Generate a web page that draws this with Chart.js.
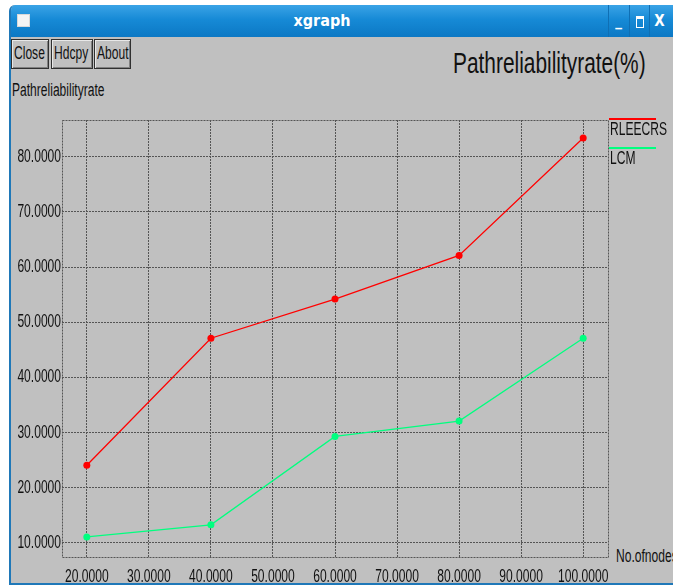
<!DOCTYPE html>
<html>
<head>
<meta charset="utf-8">
<script src="https://cdn.jsdelivr.net/npm/chart.js@4.4.1/dist/chart.umd.min.js"></script>
<style>
  html, body { margin:0; padding:0; background:#ffffff; width:673px; height:588px; overflow:hidden; }
  .narrow { font-family: 'Liberation Sans', Arial, sans-serif; }
  .sq { display:inline-block; transform:scaleX(0.67); transform-origin:left top; white-space:nowrap; }
  #win { position:absolute; left:9px; top:5px; width:700px; height:578px; background:#c0c0c0;
         border-left:2px solid #1f78b8; border-bottom:2px solid #1f78b8; border-top-left-radius:6px; overflow:hidden; }
  #tbar { position:absolute; left:0; top:0; width:100%; height:32px;
          background:linear-gradient(#3aa3e6, #168ad6 45%, #0c78c4); }
  #tbar .t { position:absolute; left:0; width:622px; top:6px; text-align:center; color:#fff;
             font:bold 16px 'DejaVu Sans Condensed', 'DejaVu Sans', sans-serif; }
  #icon { position:absolute; left:6px; top:9px; width:11px; height:11px; background:#f4f4f4; border:1px solid #d8d8d8; }
  .ctl { position:absolute; top:0; height:32px; width:20px; color:#fff; text-align:center;
         font:bold 15px 'DejaVu Sans Condensed', sans-serif; line-height:32px; border-left:1px solid #0f6fb4; box-sizing:border-box; }
  .btn { position:absolute; top:34px; height:30px; border:1px solid #303030; box-shadow: inset 1px 1px 0 #e8e8e8, inset -1px -1px 0 #808080;
         font-size:18px; line-height:27px; color:#111; box-sizing:border-box; padding-left:2px; overflow:hidden; }
  #cv { position:absolute; left:0; top:0; }
  .lbl { position:absolute; color:#111; white-space:nowrap; transform:scaleX(0.67); transform-origin:left top; line-height:normal; }
</style>
</head>
<body>
<div id="win">
  <div id="tbar">
    <div id="icon"></div>
    <div class="t">xgraph</div>
    <div class="ctl" style="left:597px;">_</div>
    <div class="ctl" style="left:618px;"><span style="display:inline-block;width:6px;height:8px;border:1px solid #fff;border-top-width:3px;vertical-align:middle;"></span></div>
    <div class="ctl" style="left:638px;">X</div>
  </div>
  <div class="btn narrow" style="left:0px;width:38px;"><span class="sq">Close</span></div>
  <div class="btn narrow" style="left:40px;width:42px;"><span class="sq">Hdcpy</span></div>
  <div class="btn narrow" style="left:83px;width:37px;"><span class="sq">About</span></div>
</div>
<div class="lbl narrow" style="left:453px;top:47px;font-size:29px;transform:scaleX(0.72);">Pathreliabilityrate(%)</div>
<div class="lbl narrow" style="left:12px;top:80px;font-size:18px;">Pathreliabilityrate</div>
<div class="lbl narrow" style="left:616px;top:546px;font-size:18px;">No.ofnodes</div>
<canvas id="cv" width="673" height="588"></canvas>
<script>
const categories = [20, 40, 60, 80, 100];
const seriesNames = ["RLEECRS", "LCM"];
const rleecrs = [24.1, 47.1, 54.2, 62.1, 83.4];
const lcm = [11.1, 13.3, 29.3, 32.1, 47.1];
const xTickValues = [20, 30, 40, 50, 60, 70, 80, 90, 100];
const yTickValues = [10, 20, 30, 40, 50, 60, 70, 80];

const FONT = "'Liberation Sans', Arial, sans-serif";
const GRID = '#555555';
const DASH = [2, 1];
const SQUEEZE = 0.67;

// condensed text rendering (narrow X11 font look): squeeze horizontally about the anchor point
const canvas = document.getElementById('cv');
const c2d = canvas.getContext('2d');
const origFillText = c2d.fillText;
c2d.fillText = function (t, x, y, mw) {
  this.save();
  this.translate(x, y);
  this.scale(SQUEEZE, 1);
  if (mw === undefined) origFillText.call(this, t, 0, 0); else origFillText.call(this, t, 0, 0, mw / SQUEEZE);
  this.restore();
};

const frame = {
  id: 'frame',
  beforeDatasetsDraw(chart) {
    const {ctx, chartArea:a} = chart;
    ctx.save();
    ctx.strokeStyle = GRID; ctx.lineWidth = 1; ctx.setLineDash(DASH);
    ctx.strokeRect(Math.round(a.left)+0.5, Math.round(a.top)+0.5, Math.round(a.right-a.left), Math.round(a.bottom-a.top));
    ctx.restore();
  },
  afterDraw(chart) {
    const {ctx, chartArea:a} = chart;
    ctx.save();
    chart.data.datasets.forEach((ds, i) => {
      const y = Math.round(a.top) - 1 + i * 29;
      ctx.strokeStyle = ds.borderColor; ctx.lineWidth = 2; ctx.setLineDash([]);
      ctx.beginPath(); ctx.moveTo(a.right + 1, y); ctx.lineTo(a.right + 48, y); ctx.stroke();
      ctx.fillStyle = '#111'; ctx.font = '18px ' + FONT; ctx.textBaseline = 'top'; ctx.textAlign = 'left';
      ctx.fillText(ds.label, a.right + 2, y + 2);
    });
    ctx.restore();
  }
};

new Chart(canvas, {
  type: 'line',
  data: {
    datasets: [
      { label: seriesNames[0], data: categories.map((x, i) => ({x, y: rleecrs[i]})),
        borderColor: '#ff0000', backgroundColor: '#ff0000', borderWidth: 1.3, pointRadius: 3.5, pointBorderWidth: 0, tension: 0 },
      { label: seriesNames[1], data: categories.map((x, i) => ({x, y: lcm[i]})),
        borderColor: '#00ff7f', backgroundColor: '#00ff7f', borderWidth: 1.3, pointRadius: 3.5, pointBorderWidth: 0, tension: 0 }
    ]
  },
  options: {
    responsive: false, animation: false, devicePixelRatio: 1,
    layout: { padding: { left: 0, top: 120, right: 65, bottom: 0 } },
    plugins: { legend: { display: false }, tooltip: { enabled: false }, title: { display: false } },
    scales: {
      x: {
        type: 'linear', min: 16, max: 104,
        afterBuildTicks: s => { s.ticks = xTickValues.map(v => ({value: v})); },
        afterFit: s => { s.height = 31; },
        grid: { color: GRID, drawTicks: false, lineWidth: 1 },
        border: { display: false, dash: DASH },
        ticks: { color: '#111', font: { family: FONT, size: 18 }, padding: 9, maxRotation: 0, autoSkip: false,
                 callback: v => Number(v).toFixed(4) }
      },
      y: {
        type: 'linear', min: 7.46, max: 86.65,
        afterBuildTicks: s => { s.ticks = yTickValues.map(v => ({value: v})); },
        afterFit: s => { s.width = 62; },
        grid: { color: GRID, drawTicks: false, lineWidth: 1 },
        border: { display: false, dash: DASH },
        ticks: { color: '#111', font: { family: FONT, size: 18 }, padding: 1, autoSkip: false,
                 callback: v => Number(v).toFixed(4) }
      }
    }
  },
  plugins: [frame]
});
</script>
</body>
</html>
